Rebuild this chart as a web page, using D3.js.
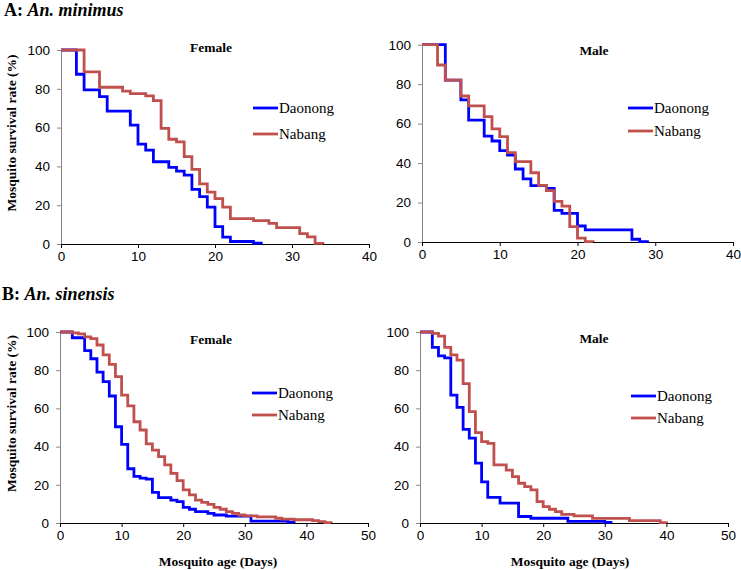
<!DOCTYPE html>
<html>
<head>
<meta charset="utf-8">
<script src="https://cdn.jsdelivr.net/npm/d3@7/dist/d3.min.js"></script>
<style>
  body { margin: 0; background: #fff; }
  svg { display: block; }
</style>
</head>
<body>
<svg id="chart" width="741" height="570"></svg>
<script>
// ---------------- DATA ----------------
const seriesNames = ["Daonong", "Nabang"];
const yTicks = [0, 20, 40, 60, 80, 100];
const xTicksA = [0, 10, 20, 30, 40];
const xTicksB = [0, 10, 20, 30, 40, 50];

// A: An. minimus — Female
const aFemaleDaonongDays = [0, 2, 3, 5, 6, 9, 10, 11, 12, 14, 15, 16, 17, 18, 19, 20, 21, 22, 25, 26];
const aFemaleDaonongVals = [100, 87.5, 79.4, 76, 68.5, 61.3, 51.5, 48.4, 42.4, 39.5, 37.6, 35.5, 28.2, 24.4, 19, 9, 3.5, 1.3, 0.5, 0];
const aFemaleNabangDays = [0, 3, 5, 8, 9, 11, 12, 13, 14, 15, 16, 17, 18, 19, 20, 21, 22, 25, 27, 28, 31, 32, 33, 34];
const aFemaleNabangVals = [100, 88.7, 80.8, 78.8, 77.5, 76.4, 73.9, 59.6, 54, 52.6, 45, 38.5, 31, 26.7, 23.4, 19, 13.1, 12, 10.6, 8.4, 5.3, 3.7, 0.3, 0];

// A: An. minimus — Male
const aMaleDaonongDays = [0, 3, 5, 6, 8, 9, 10, 11, 12, 13, 14, 16, 17, 18, 20, 21, 27, 28, 29];
const aMaleDaonongVals = [100, 82, 72, 61.8, 53.7, 51.2, 46.3, 44, 37, 32, 28.6, 27.2, 16, 14.5, 8.1, 6.1, 1.4, 0.2, 0];
const aMaleNabangDays = [0, 2, 3, 5, 6, 8, 9, 10, 11, 12, 14, 15, 16, 17, 18, 19, 20, 21, 22];
const aMaleNabangVals = [100, 89.7, 82, 74, 69, 63.5, 57.3, 53.4, 45.3, 40.7, 35.1, 28.7, 26, 20.6, 18.2, 7.8, 2, 0.2, 0];

// B: An. sinensis — Female
const bFemaleDaonongDays = [0, 2, 4, 5, 6, 7, 8, 9, 10, 11, 12, 13, 14, 15, 16, 18, 19, 20, 21, 22, 24, 25, 27, 31, 37, 38];
const bFemaleDaonongVals = [100, 97, 90.2, 86, 79, 74, 66.5, 50.4, 41.2, 28.4, 24.4, 23.5, 23, 16, 13.3, 12, 11.2, 8.2, 7.2, 6, 5, 4.2, 3.6, 1, 0.5, 0];
const bFemaleNabangDays = [0, 2, 3, 4, 5, 6, 7, 8, 9, 10, 11, 12, 13, 14, 15, 16, 17, 18, 19, 20, 21, 22, 23, 24, 25, 26, 27, 28, 29, 30, 32, 35, 36, 38, 41, 42, 43, 44];
const bFemaleNabangVals = [100, 99.5, 99, 97.5, 96.5, 93.2, 88, 83, 76.6, 67, 61.3, 53, 48.7, 41.4, 38.2, 34.7, 30.4, 26, 22.2, 17.3, 14.7, 12, 10.8, 9.8, 8.2, 7.2, 6, 5, 4.2, 3.7, 3.2, 2.5, 2, 1.7, 1.2, 0.7, 0.2, 0];

// B: An. sinensis — Male
const bMaleDaonongDays = [0, 2, 3, 4, 5, 6, 7, 8, 9, 10, 11, 13, 16, 18, 24, 30, 31];
const bMaleDaonongVals = [100, 92, 87.5, 86.5, 67, 60.5, 49, 44.4, 31.3, 21.5, 13.4, 10.4, 3.4, 2.5, 0.9, 0.3, 0];
const bMaleNabangDays = [0, 2, 3, 4, 5, 6, 7, 8, 9, 10, 11, 12, 14, 15, 16, 17, 18, 19, 20, 21, 22, 23, 25, 28, 34, 39, 40];
const bMaleNabangVals = [100, 99.3, 97.8, 92, 88, 85.3, 73, 58.3, 47.3, 42.6, 41.7, 30.4, 27.7, 24.3, 20.8, 19, 17.3, 11.2, 8.6, 7.2, 6, 4.5, 3.7, 2.4, 1.2, 0.2, 0];

// ---------------- LAYOUT ----------------
const colors = ["#0000ff", "#c0504d"];
const svg = d3.select("#chart");
const serif = "'Liberation Serif', 'Times New Roman', serif";
const sans = "'Liberation Sans', Arial, sans-serif";

const zip = (ds, vs) => ds.map((d, i) => ({ d, v: vs[i] }));

const panels = [
  { x0: 61, x1: 369, y0: 244, y1: 50, xmax: 40, xTicks: xTicksA, title: "Female", tx: 211, ty: 52,
    legX: 253, legY: [108, 134], ylabel: true, xlabel: false,
    series: [zip(aFemaleDaonongDays, aFemaleDaonongVals), zip(aFemaleNabangDays, aFemaleNabangVals)] },
  { x0: 422, x1: 733, y0: 242, y1: 44.7, xmax: 40, xTicks: xTicksA, title: "Male", tx: 594, ty: 55,
    legX: 628, legY: [108, 131], ylabel: false, xlabel: false,
    series: [zip(aMaleDaonongDays, aMaleDaonongVals), zip(aMaleNabangDays, aMaleNabangVals)] },
  { x0: 60, x1: 368, y0: 523, y1: 332, xmax: 50, xTicks: xTicksB, title: "Female", tx: 211, ty: 344,
    legX: 252, legY: [393, 415], ylabel: true, xlabel: true, xlx: 218,
    series: [zip(bFemaleDaonongDays, bFemaleDaonongVals), zip(bFemaleNabangDays, bFemaleNabangVals)] },
  { x0: 420, x1: 728, y0: 523, y1: 332, xmax: 50, xTicks: xTicksB, title: "Male", tx: 594, ty: 343,
    legX: 631, legY: [396, 418], ylabel: false, xlabel: true, xlx: 570,
    series: [zip(bMaleDaonongDays, bMaleDaonongVals), zip(bMaleNabangDays, bMaleNabangVals)] }
];

// Section titles
const tA = svg.append("text").attr("x", 4).attr("y", 16)
  .attr("font-family", serif).attr("font-size", 18).attr("font-weight", "bold");
tA.append("tspan").text("A: ");
tA.append("tspan").attr("font-style", "italic").text("An. minimus");
const tB = svg.append("text").attr("x", 2).attr("y", 300)
  .attr("font-family", serif).attr("font-size", 18).attr("font-weight", "bold");
tB.append("tspan").text("B: ");
tB.append("tspan").attr("font-style", "italic").text("An. sinensis");

panels.forEach(p => {
  const x = d3.scaleLinear().domain([0, p.xmax]).range([p.x0, p.x1]);
  const y = d3.scaleLinear().domain([0, 100]).range([p.y0, p.y1]);
  const g = svg.append("g");

  // y axis
  const ya = g.append("g").attr("transform", `translate(${p.x0},0)`)
    .call(d3.axisLeft(y).tickValues(yTicks).tickSize(4).tickPadding(7).tickSizeOuter(0));
  ya.select(".domain").attr("stroke", "#868686");
  ya.selectAll(".tick line").attr("stroke", "#868686");
  ya.selectAll("text").attr("font-family", sans).attr("font-size", 13.5).attr("fill", "#000");

  // x axis
  const xa = g.append("g").attr("transform", `translate(0,${p.y0})`)
    .call(d3.axisBottom(x).tickValues(p.xTicks).tickSize(4).tickPadding(3).tickSizeOuter(0));
  xa.select(".domain").attr("stroke", "#000");
  xa.selectAll(".tick line").attr("stroke", "#000");
  xa.selectAll("text").attr("font-family", sans).attr("font-size", 13.5).attr("fill", "#000");

  // lines
  const line = d3.line().x(d => x(d.d)).y(d => y(d.v)).curve(d3.curveStepAfter);
  p.series.forEach((s, i) => {
    g.append("path").datum(s).attr("d", line)
      .attr("fill", "none").attr("stroke", colors[i]).attr("stroke-width", 2.8)
      .attr("stroke-linejoin", "miter");
  });

  // panel title
  g.append("text").attr("x", p.tx).attr("y", p.ty).attr("text-anchor", "middle")
    .attr("font-family", serif).attr("font-weight", "bold").attr("font-size", 13.5).text(p.title);

  // legend
  seriesNames.forEach((n, i) => {
    g.append("line").attr("x1", p.legX).attr("x2", p.legX + 25)
      .attr("y1", p.legY[i]).attr("y2", p.legY[i])
      .attr("stroke", colors[i]).attr("stroke-width", 2.8);
    g.append("text").attr("x", p.legX + 26).attr("y", p.legY[i]).attr("dy", "0.35em")
      .attr("font-family", serif).attr("font-size", 15).text(n);
  });

  if (p.ylabel) {
    const cy = (p.y0 + p.y1) / 2 - 14;
    g.append("text").attr("transform", `translate(16,${cy}) rotate(-90)`)
      .attr("text-anchor", "middle").attr("font-family", serif).attr("font-weight", "bold")
      .attr("font-size", 13.5).text("Mosquito survival rate (%)");
  }
  if (p.xlabel) {
    g.append("text").attr("x", p.xlx).attr("y", 566).attr("text-anchor", "middle")
      .attr("font-family", serif).attr("font-weight", "bold").attr("font-size", 13.5)
      .text("Mosquito age (Days)");
  }
});
</script>
</body>
</html>
